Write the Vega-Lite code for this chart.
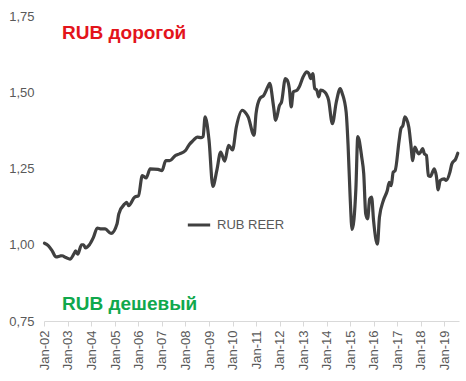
{
  "$schema": "https://vega.github.io/schema/vega-lite/v6.json",
  "autosize": {"type": "none"},
  "width": 415,
  "height": 305,
  "padding": {"left": 44, "top": 16, "right": 7, "bottom": 60},
  "background": "white",
  "config": {
    "view": {"stroke": null},
    "font": "Liberation Sans"
  },
  "layer": [
    {
      "data": {"values": [
        {"date": "2002-01-01", "reer": 1.005, "series": "RUB REER"},
        {"date": "2002-03-01", "reer": 0.997, "series": "RUB REER"},
        {"date": "2002-05-01", "reer": 0.98, "series": "RUB REER"},
        {"date": "2002-07-01", "reer": 0.96, "series": "RUB REER"},
        {"date": "2002-09-01", "reer": 0.963, "series": "RUB REER"},
        {"date": "2002-10-01", "reer": 0.964, "series": "RUB REER"},
        {"date": "2002-12-01", "reer": 0.958, "series": "RUB REER"},
        {"date": "2003-02-01", "reer": 0.953, "series": "RUB REER"},
        {"date": "2003-04-01", "reer": 0.969, "series": "RUB REER"},
        {"date": "2003-05-01", "reer": 0.98, "series": "RUB REER"},
        {"date": "2003-06-01", "reer": 0.969, "series": "RUB REER"},
        {"date": "2003-08-01", "reer": 1.0, "series": "RUB REER"},
        {"date": "2003-09-01", "reer": 1.0, "series": "RUB REER"},
        {"date": "2003-10-01", "reer": 0.99, "series": "RUB REER"},
        {"date": "2003-12-01", "reer": 1.0, "series": "RUB REER"},
        {"date": "2004-02-01", "reer": 1.024, "series": "RUB REER"},
        {"date": "2004-04-01", "reer": 1.055, "series": "RUB REER"},
        {"date": "2004-06-01", "reer": 1.052, "series": "RUB REER"},
        {"date": "2004-08-01", "reer": 1.052, "series": "RUB REER"},
        {"date": "2004-11-01", "reer": 1.037, "series": "RUB REER"},
        {"date": "2005-02-01", "reer": 1.068, "series": "RUB REER"},
        {"date": "2005-03-01", "reer": 1.101, "series": "RUB REER"},
        {"date": "2005-06-01", "reer": 1.134, "series": "RUB REER"},
        {"date": "2005-07-01", "reer": 1.139, "series": "RUB REER"},
        {"date": "2005-08-01", "reer": 1.128, "series": "RUB REER"},
        {"date": "2005-11-01", "reer": 1.156, "series": "RUB REER"},
        {"date": "2006-01-01", "reer": 1.161, "series": "RUB REER"},
        {"date": "2006-03-01", "reer": 1.227, "series": "RUB REER"},
        {"date": "2006-05-01", "reer": 1.219, "series": "RUB REER"},
        {"date": "2006-07-01", "reer": 1.249, "series": "RUB REER"},
        {"date": "2006-11-01", "reer": 1.247, "series": "RUB REER"},
        {"date": "2007-01-01", "reer": 1.243, "series": "RUB REER"},
        {"date": "2007-03-01", "reer": 1.276, "series": "RUB REER"},
        {"date": "2007-05-01", "reer": 1.276, "series": "RUB REER"},
        {"date": "2007-08-01", "reer": 1.293, "series": "RUB REER"},
        {"date": "2007-10-01", "reer": 1.298, "series": "RUB REER"},
        {"date": "2008-01-01", "reer": 1.309, "series": "RUB REER"},
        {"date": "2008-03-01", "reer": 1.329, "series": "RUB REER"},
        {"date": "2008-05-01", "reer": 1.342, "series": "RUB REER"},
        {"date": "2008-07-01", "reer": 1.353, "series": "RUB REER"},
        {"date": "2008-09-01", "reer": 1.351, "series": "RUB REER"},
        {"date": "2008-10-01", "reer": 1.355, "series": "RUB REER"},
        {"date": "2008-11-01", "reer": 1.419, "series": "RUB REER"},
        {"date": "2009-01-01", "reer": 1.342, "series": "RUB REER"},
        {"date": "2009-03-01", "reer": 1.191, "series": "RUB REER"},
        {"date": "2009-05-01", "reer": 1.243, "series": "RUB REER"},
        {"date": "2009-07-01", "reer": 1.304, "series": "RUB REER"},
        {"date": "2009-09-01", "reer": 1.274, "series": "RUB REER"},
        {"date": "2009-11-01", "reer": 1.326, "series": "RUB REER"},
        {"date": "2010-01-01", "reer": 1.311, "series": "RUB REER"},
        {"date": "2010-03-01", "reer": 1.386, "series": "RUB REER"},
        {"date": "2010-06-01", "reer": 1.441, "series": "RUB REER"},
        {"date": "2010-08-01", "reer": 1.43, "series": "RUB REER"},
        {"date": "2010-09-01", "reer": 1.419, "series": "RUB REER"},
        {"date": "2010-12-01", "reer": 1.359, "series": "RUB REER"},
        {"date": "2011-01-01", "reer": 1.43, "series": "RUB REER"},
        {"date": "2011-03-01", "reer": 1.479, "series": "RUB REER"},
        {"date": "2011-05-01", "reer": 1.49, "series": "RUB REER"},
        {"date": "2011-07-01", "reer": 1.517, "series": "RUB REER"},
        {"date": "2011-08-01", "reer": 1.529, "series": "RUB REER"},
        {"date": "2011-10-01", "reer": 1.452, "series": "RUB REER"},
        {"date": "2011-11-01", "reer": 1.408, "series": "RUB REER"},
        {"date": "2012-01-01", "reer": 1.457, "series": "RUB REER"},
        {"date": "2012-02-01", "reer": 1.468, "series": "RUB REER"},
        {"date": "2012-04-01", "reer": 1.545, "series": "RUB REER"},
        {"date": "2012-05-01", "reer": 1.539, "series": "RUB REER"},
        {"date": "2012-06-01", "reer": 1.512, "series": "RUB REER"},
        {"date": "2012-07-01", "reer": 1.452, "series": "RUB REER"},
        {"date": "2012-08-01", "reer": 1.501, "series": "RUB REER"},
        {"date": "2012-10-01", "reer": 1.507, "series": "RUB REER"},
        {"date": "2012-11-01", "reer": 1.517, "series": "RUB REER"},
        {"date": "2013-01-01", "reer": 1.55, "series": "RUB REER"},
        {"date": "2013-03-01", "reer": 1.567, "series": "RUB REER"},
        {"date": "2013-04-01", "reer": 1.561, "series": "RUB REER"},
        {"date": "2013-05-01", "reer": 1.545, "series": "RUB REER"},
        {"date": "2013-06-01", "reer": 1.561, "series": "RUB REER"},
        {"date": "2013-07-01", "reer": 1.512, "series": "RUB REER"},
        {"date": "2013-08-01", "reer": 1.507, "series": "RUB REER"},
        {"date": "2013-09-01", "reer": 1.485, "series": "RUB REER"},
        {"date": "2013-10-01", "reer": 1.507, "series": "RUB REER"},
        {"date": "2013-12-01", "reer": 1.501, "series": "RUB REER"},
        {"date": "2014-02-01", "reer": 1.474, "series": "RUB REER"},
        {"date": "2014-04-01", "reer": 1.397, "series": "RUB REER"},
        {"date": "2014-06-01", "reer": 1.468, "series": "RUB REER"},
        {"date": "2014-08-01", "reer": 1.512, "series": "RUB REER"},
        {"date": "2014-09-01", "reer": 1.496, "series": "RUB REER"},
        {"date": "2014-11-01", "reer": 1.435, "series": "RUB REER"},
        {"date": "2014-12-01", "reer": 1.326, "series": "RUB REER"},
        {"date": "2015-01-01", "reer": 1.161, "series": "RUB REER"},
        {"date": "2015-02-01", "reer": 1.05, "series": "RUB REER"},
        {"date": "2015-04-01", "reer": 1.183, "series": "RUB REER"},
        {"date": "2015-05-01", "reer": 1.355, "series": "RUB REER"},
        {"date": "2015-07-01", "reer": 1.287, "series": "RUB REER"},
        {"date": "2015-08-01", "reer": 1.233, "series": "RUB REER"},
        {"date": "2015-09-01", "reer": 1.101, "series": "RUB REER"},
        {"date": "2015-10-01", "reer": 1.085, "series": "RUB REER"},
        {"date": "2015-11-01", "reer": 1.15, "series": "RUB REER"},
        {"date": "2015-12-01", "reer": 1.156, "series": "RUB REER"},
        {"date": "2016-01-01", "reer": 1.079, "series": "RUB REER"},
        {"date": "2016-03-01", "reer": 1.002, "series": "RUB REER"},
        {"date": "2016-04-01", "reer": 1.09, "series": "RUB REER"},
        {"date": "2016-06-01", "reer": 1.145, "series": "RUB REER"},
        {"date": "2016-08-01", "reer": 1.178, "series": "RUB REER"},
        {"date": "2016-09-01", "reer": 1.205, "series": "RUB REER"},
        {"date": "2016-10-01", "reer": 1.194, "series": "RUB REER"},
        {"date": "2016-11-01", "reer": 1.238, "series": "RUB REER"},
        {"date": "2016-12-01", "reer": 1.243, "series": "RUB REER"},
        {"date": "2017-02-01", "reer": 1.342, "series": "RUB REER"},
        {"date": "2017-03-01", "reer": 1.381, "series": "RUB REER"},
        {"date": "2017-04-01", "reer": 1.391, "series": "RUB REER"},
        {"date": "2017-05-01", "reer": 1.419, "series": "RUB REER"},
        {"date": "2017-07-01", "reer": 1.386, "series": "RUB REER"},
        {"date": "2017-08-01", "reer": 1.331, "series": "RUB REER"},
        {"date": "2017-09-01", "reer": 1.276, "series": "RUB REER"},
        {"date": "2017-10-01", "reer": 1.32, "series": "RUB REER"},
        {"date": "2017-12-01", "reer": 1.298, "series": "RUB REER"},
        {"date": "2018-01-01", "reer": 1.304, "series": "RUB REER"},
        {"date": "2018-02-01", "reer": 1.315, "series": "RUB REER"},
        {"date": "2018-03-01", "reer": 1.298, "series": "RUB REER"},
        {"date": "2018-04-01", "reer": 1.293, "series": "RUB REER"},
        {"date": "2018-05-01", "reer": 1.227, "series": "RUB REER"},
        {"date": "2018-06-01", "reer": 1.224, "series": "RUB REER"},
        {"date": "2018-08-01", "reer": 1.249, "series": "RUB REER"},
        {"date": "2018-09-01", "reer": 1.227, "series": "RUB REER"},
        {"date": "2018-10-01", "reer": 1.18, "series": "RUB REER"},
        {"date": "2018-11-01", "reer": 1.211, "series": "RUB REER"},
        {"date": "2019-01-01", "reer": 1.216, "series": "RUB REER"},
        {"date": "2019-02-01", "reer": 1.211, "series": "RUB REER"},
        {"date": "2019-04-01", "reer": 1.238, "series": "RUB REER"},
        {"date": "2019-05-01", "reer": 1.265, "series": "RUB REER"},
        {"date": "2019-07-01", "reer": 1.282, "series": "RUB REER"},
        {"date": "2019-08-01", "reer": 1.3, "series": "RUB REER"}
      ]},
      "mark": {"type": "line", "strokeWidth": 3.2, "interpolate": "monotone", "strokeJoin": "round", "strokeCap": "round"},
      "encoding": {
        "x": {
          "field": "date", "type": "temporal",
          "scale": {"domain": ["2001-12-25", "2019-08-20"]},
          "axis": {
            "title": null,
            "format": "%b-%y",
            "tickCount": {"interval": "year", "step": 1},
            "labelAngle": -90,
            "labelAlign": "right",
            "labelBaseline": "middle",
            "labelFontSize": 13,
            "labelColor": "#595959",
            "labelPadding": 4,
            "labelOverlap": false,
            "labelFlush": false,
            "domainColor": "#d9d9d9",
            "tickColor": "#d9d9d9",
            "tickSize": 5,
            "grid": false
          }
        },
        "y": {
          "field": "reer", "type": "quantitative",
          "scale": {"domain": [0.75, 1.75], "nice": false, "zero": false},
          "axis": {
            "title": null,
            "values": [0.75, 1.0, 1.25, 1.5, 1.75],
            "labelExpr": "replace(format(datum.value, '.2f'), '.', ',')",
            "labelFontSize": 13,
            "labelColor": "#595959",
            "labelPadding": 10,
            "ticks": false,
            "domain": false,
            "grid": false
          }
        },
        "color": {
          "field": "series", "type": "nominal",
          "scale": {"range": ["#404040"]},
          "legend": {
            "title": null,
            "orient": "none",
            "legendX": 142,
            "legendY": 196,
            "symbolType": "stroke",
            "symbolStrokeWidth": 3,
            "symbolSize": 500,
            "labelFontSize": 13,
            "labelColor": "#595959",
            "labelOffset": 5
          }
        }
      }
    },
    {
      "data": {"values": [{"label": "RUB дорогой", "date": "2002-10-01", "reer": 1.695}]},
      "mark": {"type": "text", "align": "left", "baseline": "middle", "fontSize": 19, "fontWeight": "bold", "color": "#e3141b"},
      "encoding": {
        "x": {"field": "date", "type": "temporal"},
        "y": {"field": "reer", "type": "quantitative"},
        "text": {"field": "label"}
      }
    },
    {
      "data": {"values": [{"label": "RUB дешевый", "date": "2002-10-01", "reer": 0.805}]},
      "mark": {"type": "text", "align": "left", "baseline": "middle", "fontSize": 19, "fontWeight": "bold", "color": "#10a84c"},
      "encoding": {
        "x": {"field": "date", "type": "temporal"},
        "y": {"field": "reer", "type": "quantitative"},
        "text": {"field": "label"}
      }
    }
  ]
}
